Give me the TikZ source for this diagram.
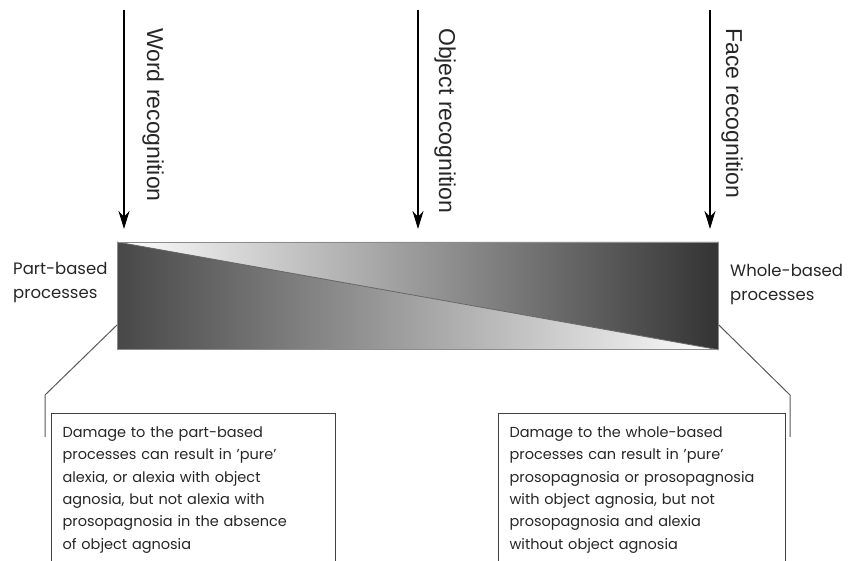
\documentclass[tikz,border=0pt]{standalone}
\usepackage{fontspec}
\setmainfont{Poppins}
\newfontfamily\arrowfont{Liberation Sans}
\usetikzlibrary{arrows.meta,positioning,calc}

\tikzset{
    inputarrow/.style={line width=2.4pt, -{Stealth[length=18pt,width=11pt]}},
    inputlabel/.style={rotate=-90, anchor=base west, inner sep=0pt, font=\arrowfont\fontsize{23}{26}\selectfont},
    sidelabel/.style={align=left, inner sep=0pt, font=\fontsize{16.5}{24}\selectfont},
    notebox/.style={draw=black!75, line width=1.1pt, anchor=north west, align=left,
        inner xsep=11pt, inner ysep=13pt, font=\fontsize{14.5}{22.4}\selectfont},
    callout/.style={draw=black!65, line width=1pt}
}

\begin{document}
\begin{tikzpicture}[x=1pt, y=-1pt, text=black!85]
    \useasboundingbox (0,0) rectangle (855,561);

    % Bar {bar}
    \node [draw=black!45, line width=0.8pt, anchor=north west, inner sep=0pt,
           minimum width=601pt, minimum height=107pt] (bar) at (117,242) {};
    \shade [left color=white, middle color=black!28, right color=black!80]
        (bar.north west) -- (bar.north east) -- (bar.south east) -- cycle;
    \shade [left color=black!72, middle color=black!30, right color=white]
        (bar.north west) -- (bar.south west) -- (bar.south east) -- cycle;
    \draw [black!60, line width=0.8pt] (bar.north west) -- (bar.south east);
    \draw [black!45, line width=0.8pt] (bar.north west) rectangle (bar.south east);

    % Inputs {word, object, face}
    \coordinate (wordtop)   at (124,10);
    \coordinate (objecttop) at (418,10);
    \coordinate (facetop)   at (710,10);
    \draw [inputarrow] (wordtop)   -- ($(wordtop |- bar.north)+(0,-13)$);
    \draw [inputarrow] (objecttop) -- ($(objecttop |- bar.north)+(0,-13)$);
    \draw [inputarrow] (facetop)   -- ($(facetop |- bar.north)+(0,-13)$);
    \node [inputlabel] (wordlabel)   at (147,28) {Word recognition};
    \node [inputlabel] (objectlabel) at (439,28) {Object recognition};
    \node [inputlabel] (facelabel)   at (726,28) {Face recognition};

    % Side labels
    \node [sidelabel, anchor=base west] (partlabel)  at (13,299)  {Part-based\\processes};
    \node [sidelabel, anchor=base west] (wholelabel) at (730,301) {Whole-based\\processes};

    % Notes
    \node [notebox, text width=262pt] (partnote) at (51,413)
        {Damage to the part-based\\processes can result in 'pure'\\alexia, or alexia with object\\agnosia, but not alexia with\\prosopagnosia in the absence\\of object agnosia};
    \node [notebox, text width=265pt] (wholenote) at (498,413)
        {Damage to the whole-based\\processes can result in 'pure'\\prosopagnosia or prosopagnosia\\with object agnosia, but not\\prosopagnosia and alexia\\without object agnosia};

    % Callouts
    \coordinate (partkink)  at (45,395);
    \coordinate (partend)   at (45,437);
    \coordinate (wholekink) at (790,395);
    \coordinate (wholeend)  at (790,437);
    \draw [callout] (bar.west |- 0,325) -- (partkink) -- (partend);
    \draw [callout] (bar.east |- 0,325) -- (wholekink) -- (wholeend);
\end{tikzpicture}
\end{document}
